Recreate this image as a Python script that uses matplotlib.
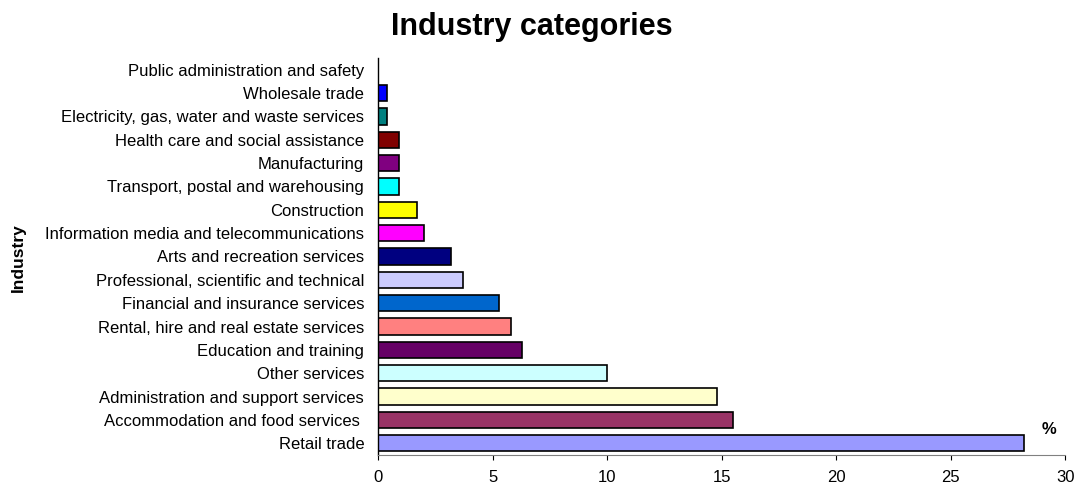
import matplotlib
matplotlib.use("Agg")
from matplotlib import pyplot as plt

plt.rcParams["font.family"] = ["Liberation Sans", "DejaVu Sans"]

# Share of businesses by industry, bottom bar first
industries = [
    "Retail trade",
    "Accommodation and food services ",
    "Administration and support services",
    "Other services",
    "Education and training",
    "Rental, hire and real estate services",
    "Financial and insurance services",
    "Professional, scientific and technical",
    "Arts and recreation services",
    "Information media and telecommunications",
    "Construction",
    "Transport, postal and warehousing",
    "Manufacturing",
    "Health care and social assistance",
    "Electricity, gas, water and waste services",
    "Wholesale trade",
    "Public administration and safety",
]
shares = [28.2, 15.5, 14.8, 10.0, 6.3, 5.8, 5.3, 3.7, 3.2, 2.0, 1.7, 0.9, 0.9, 0.9, 0.4, 0.4, 0.0]
bar_colors = [
    "#9999FF", "#993366", "#FFFFCC", "#CCFFFF", "#660066", "#FF8080",
    "#0066CC", "#CCCCFF", "#000080", "#FF00FF", "#FFFF00", "#00FFFF",
    "#800080", "#800000", "#008080", "#0000FF", "#FF0000",
]
x_ticks = [0, 5, 10, 15, 20, 25, 30]

fig = plt.figure(figsize=(10.78, 4.86), dpi=100)
ax = fig.add_axes([0.3507, 0.0638, 0.6373, 0.8169])

y = list(range(len(industries)))
ax.barh(y, shares, height=0.7, color=bar_colors, edgecolor="black", linewidth=1.2)

ax.set_xlim(0, 30)
ax.set_ylim(-0.5, len(industries) - 0.5)
ax.set_xticks(x_ticks)
ax.set_xticklabels([str(t) for t in x_ticks], fontsize=12)
ax.set_yticks(y)
ax.set_yticklabels(industries, fontsize=12)
ax.tick_params(axis="y", length=0, pad=10)
ax.tick_params(axis="x", length=3.5, width=0.8, direction="out", pad=7, colors="black")

for side in ("top", "right"):
    ax.spines[side].set_visible(False)
ax.spines["left"].set_color("black")
ax.spines["left"].set_linewidth(1.0)
ax.spines["bottom"].set_color("#808080")
ax.spines["bottom"].set_linewidth(0.8)

fig.text(0.493, 0.945, "Industry categories", ha="center", va="center",
         fontsize=22, fontweight="bold")
fig.text(0.017, 0.469, "Industry", rotation=90, ha="center", va="center",
         fontsize=12.5, fontweight="bold")
ax.text(29.3, 0.6, "%", ha="center", va="center", fontsize=12, fontweight="bold")

fig.savefig("out.png", dpi=100)
